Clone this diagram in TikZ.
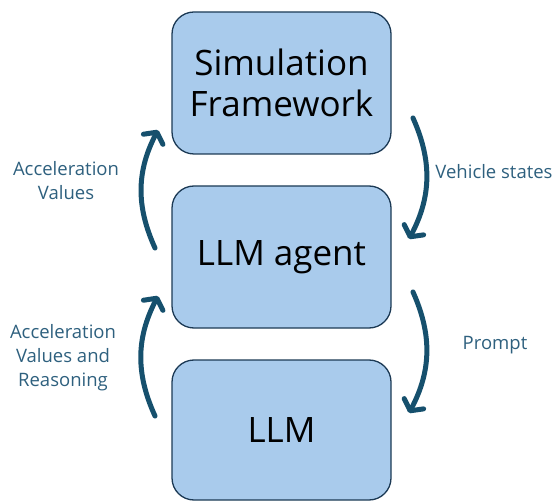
\documentclass[tikz,border=0pt]{standalone}
\usepackage{fontspec}
\setmainfont{Open Sans}
\usetikzlibrary{arrows.meta}
\definecolor{boxfill}{HTML}{A9CBEC}
\definecolor{boxline}{HTML}{1C3A55}
\definecolor{flowcol}{HTML}{16506D}
\definecolor{labelcol}{HTML}{2E607E}
\tikzset{
  stage/.style={draw=boxline, line width=1.3pt, fill=boxfill, rounded corners=22pt,
    minimum width=219pt, minimum height=142pt, align=center, font=\fontsize{35}{41}\selectfont},
  flow/.style={draw=flowcol, line width=5pt, line cap=round,
    -{Straight Barb[length=8pt,width=22pt,round]}},
  flowlabel/.style={text=labelcol, align=center, font=\fontsize{18.5}{24}\selectfont}
}
\begin{document}
\begin{tikzpicture}[x=1pt,y=-1pt]
        \useasboundingbox (0,0) rectangle (559,502);
        
        % Define the boxes
        \node[stage] (sim) at (281.5,83)  {Simulation\\Framework};
        \node[stage] (agent) at (281.5,257) {LLM agent};
        \node[stage, minimum height=140pt] (llm) at (281.5,430) {LLM};
        
        % Arrow end points
        \coordinate (S1) at (155,248); % up to the framework
        \coordinate (E1) at (158,130);
        \coordinate (S2) at (413,118); % down to the agent
        \coordinate (E2) at (409,239);
        \coordinate (S3) at (155,416); % up to the agent
        \coordinate (E3) at (158,296);
        \coordinate (S4) at (413,292); % down to the llm
        \coordinate (E4) at (409,413);
        
        % Draw the arrows
        \draw[flow] (S1) to[bend left=26] (E1);
        \draw[flow] (S2) to[bend left=26] (E2);
        \draw[flow] (S3) to[bend left=26] (E3);
        \draw[flow] (S4) to[bend left=26] (E4);
        
        % Labels
        \node[flowlabel] (accel) at (66,181) {Acceleration\\Values};
        \node[flowlabel] (states) at (494,172) {Vehicle states};
        \node[flowlabel] (reason) at (63,358) {Acceleration\\Values and\\Reasoning};
        \node[flowlabel] (prompt) at (495,345) {Prompt};
    \end{tikzpicture}
\end{document}
